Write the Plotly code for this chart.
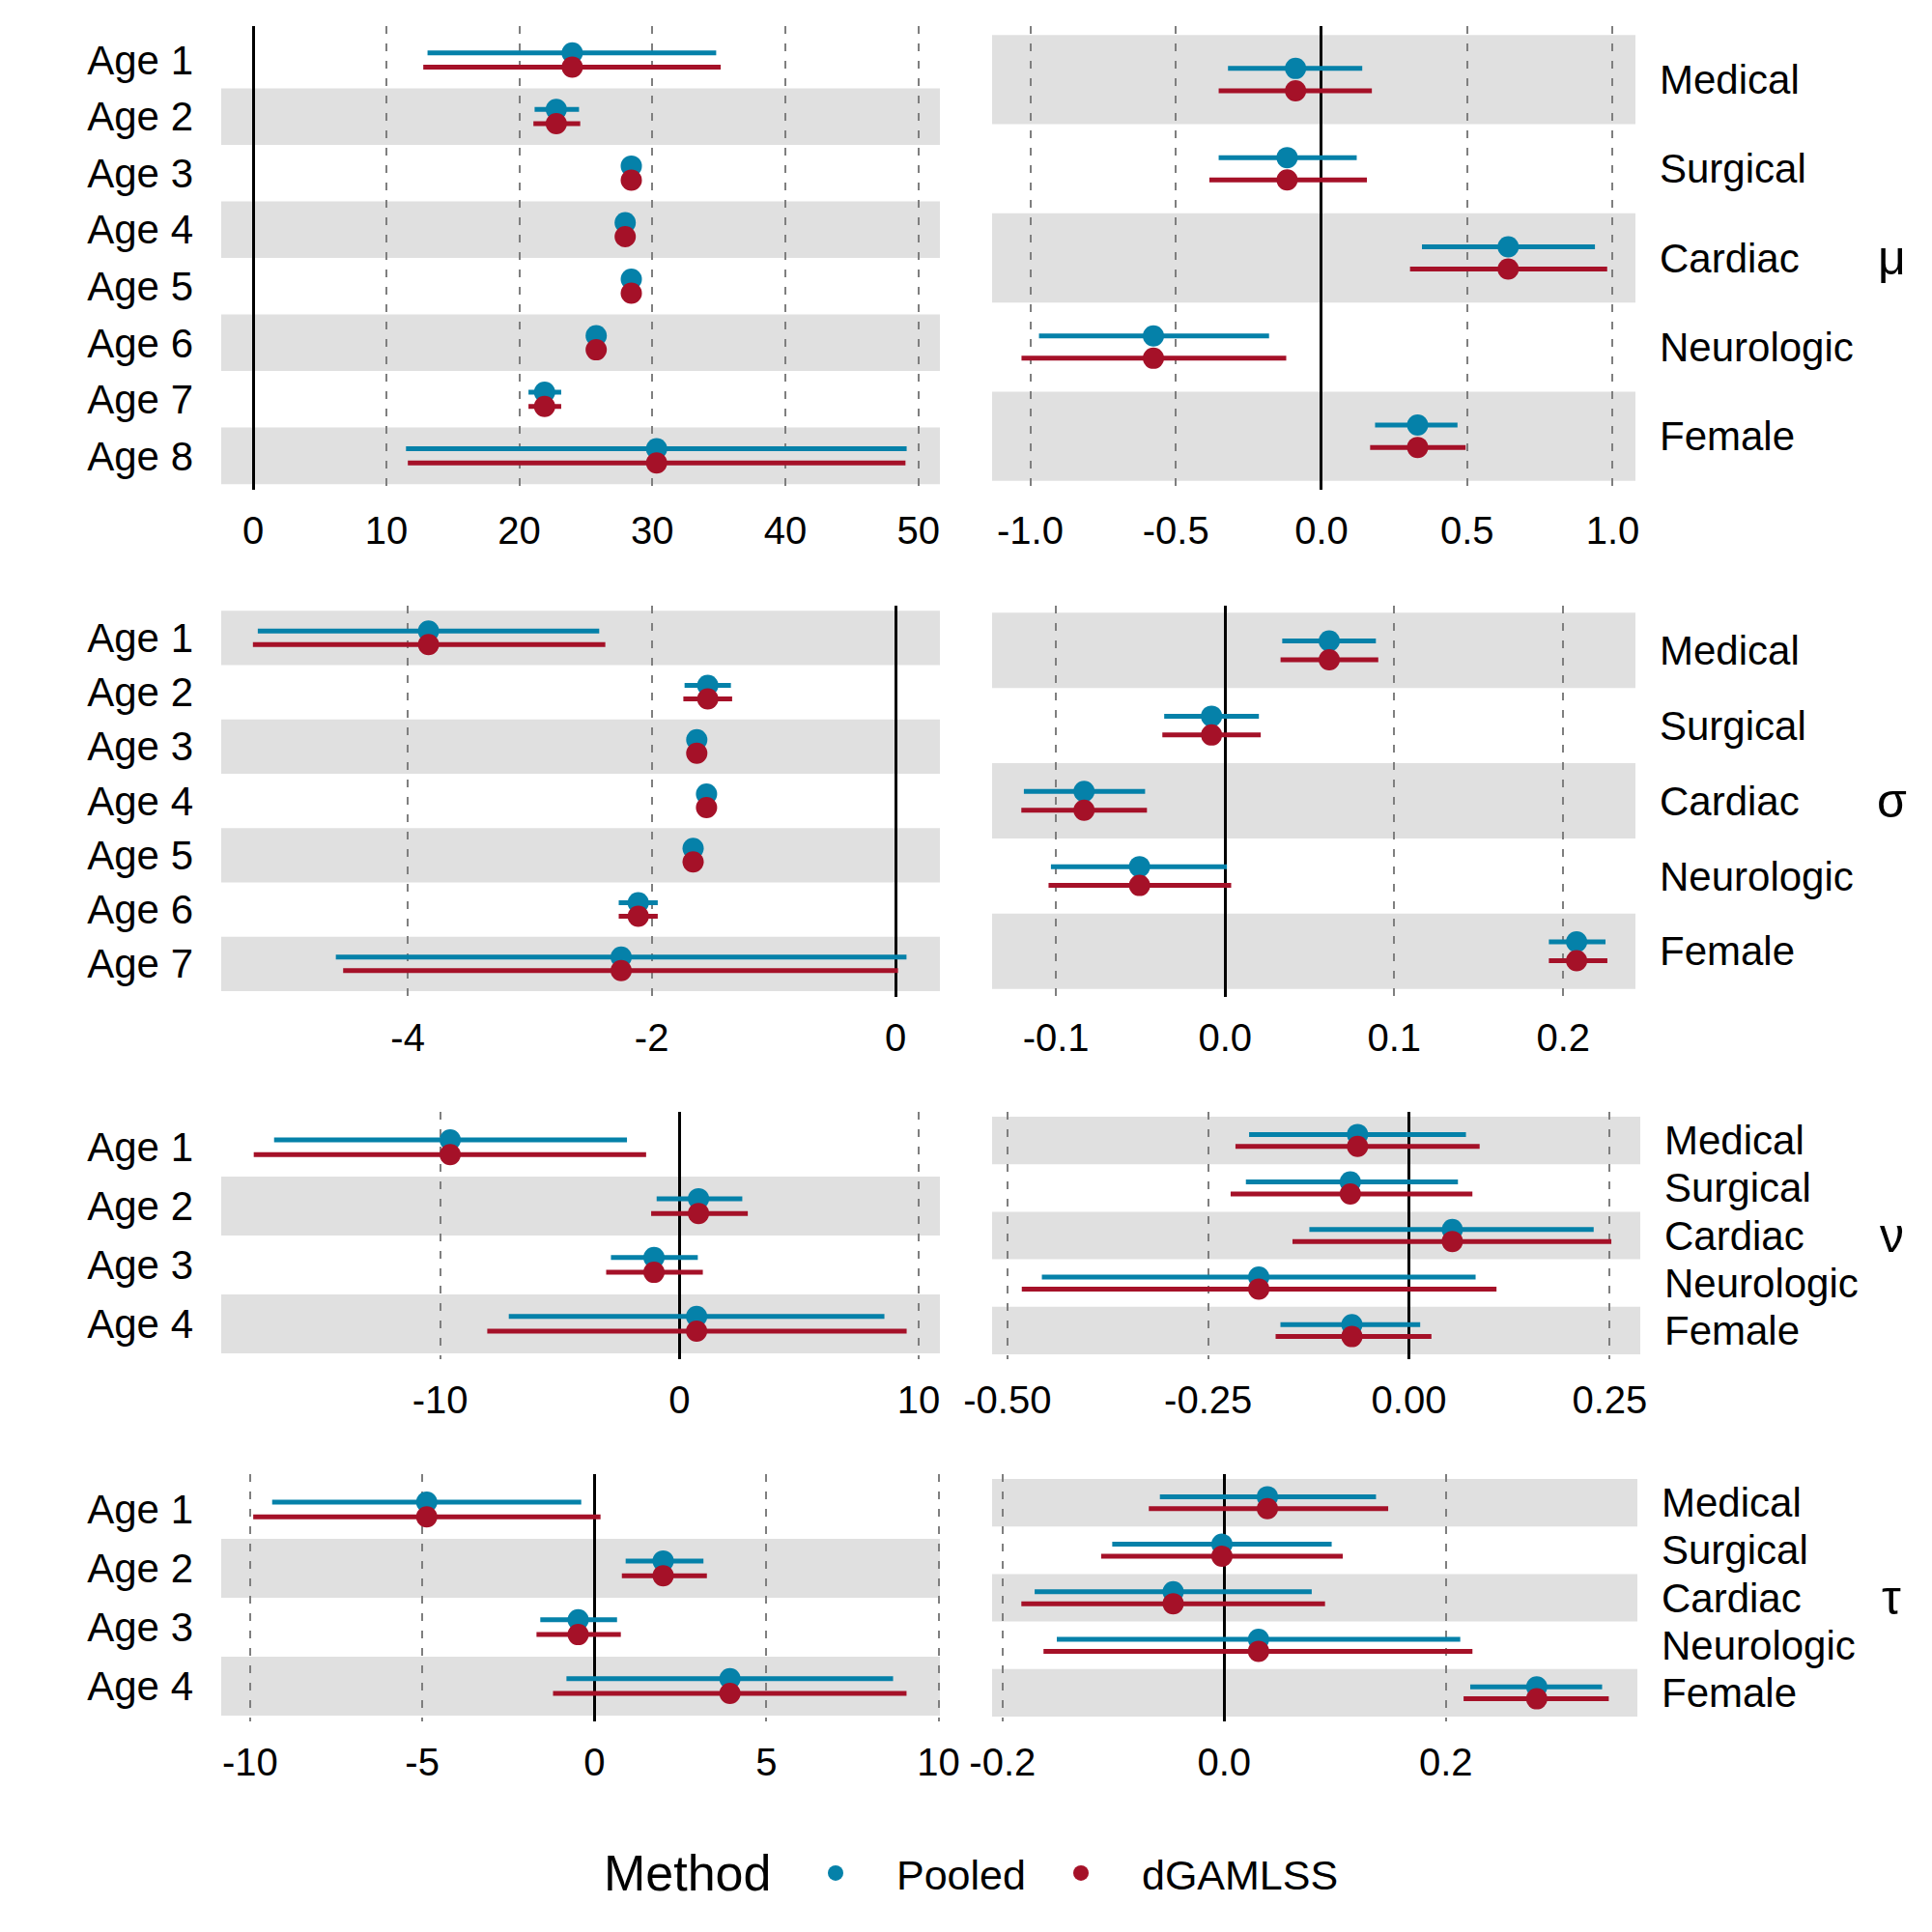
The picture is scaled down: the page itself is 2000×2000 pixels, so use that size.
import plotly.graph_objects as go

FONT = "Liberation Sans, Arial, Helvetica, sans-serif"
BLUE = "#0581A9"
RED = "#A51128"
BAND = "#E0E0E0"

# ---------------- data ----------------
age_labels = ["Age 1", "Age 2", "Age 3", "Age 4", "Age 5", "Age 6", "Age 7", "Age 8"]
cov_labels = ["Medical", "Surgical", "Cardiac", "Neurologic", "Female"]
param_labels = ["μ", "σ", "ν", "τ"]
methods = ["Pooled", "dGAMLSS"]
legend_title = "Method"

# mu - age effects (8 groups)
mu_age_est = [23.98, 22.78, 28.42, 27.96, 28.42, 25.78, 21.90, 30.32]
mu_age_pool_lo = [13.10, 21.15, 28.05, 27.60, 28.05, 25.40, 20.69, 11.48]
mu_age_pool_hi = [34.80, 24.49, 28.80, 28.30, 28.80, 26.15, 23.15, 49.12]
mu_age_dg_lo = [12.78, 21.06, 28.00, 27.55, 28.00, 25.35, 20.69, 11.62]
mu_age_dg_hi = [35.14, 24.58, 28.85, 28.35, 28.85, 26.20, 23.15, 49.03]

# mu - covariates
mu_cov_est = [-0.089, -0.118, 0.641, -0.577, 0.330]
mu_cov_pool_lo = [-0.321, -0.353, 0.345, -0.970, 0.184]
mu_cov_pool_hi = [0.140, 0.121, 0.939, -0.180, 0.467]
mu_cov_dg_lo = [-0.353, -0.385, 0.304, -1.030, 0.167]
mu_cov_dg_hi = [0.173, 0.156, 0.981, -0.121, 0.495]

# sigma - age effects (7 groups)
sg_age_est = [-3.83, -1.54, -1.63, -1.55, -1.66, -2.11, -2.25]
sg_age_pool_lo = [-5.23, -1.73, -1.66, -1.58, -1.69, -2.27, -4.59]
sg_age_pool_hi = [-2.43, -1.35, -1.60, -1.52, -1.63, -1.95, 0.09]
sg_age_dg_lo = [-5.27, -1.74, -1.66, -1.58, -1.69, -2.27, -4.53]
sg_age_dg_hi = [-2.38, -1.34, -1.60, -1.52, -1.63, -1.95, 0.02]

# sigma - covariates
sg_cov_est = [0.0616, -0.0080, -0.0834, -0.0506, 0.2079]
sg_cov_pool_lo = [0.0338, -0.0360, -0.1190, -0.1030, 0.1915]
sg_cov_pool_hi = [0.0892, 0.0200, -0.0473, 0.0011, 0.2250]
sg_cov_dg_lo = [0.0328, -0.0371, -0.1205, -0.1044, 0.1915]
sg_cov_dg_hi = [0.0906, 0.0211, -0.0462, 0.0036, 0.2261]

# nu - age effects (4 groups)
nu_age_est = [-9.58, 0.80, -1.06, 0.72]
nu_age_pool_lo = [-16.94, -0.95, -2.86, -7.13]
nu_age_pool_hi = [-2.19, 2.63, 0.77, 8.57]
nu_age_dg_lo = [-17.79, -1.18, -3.06, -8.03]
nu_age_dg_hi = [-1.39, 2.86, 0.98, 9.50]

# nu - covariates
nu_cov_est = [-0.064, -0.073, 0.054, -0.187, -0.071]
nu_cov_pool_lo = [-0.199, -0.203, -0.124, -0.457, -0.160]
nu_cov_pool_hi = [0.071, 0.061, 0.230, 0.083, 0.014]
nu_cov_dg_lo = [-0.216, -0.222, -0.145, -0.482, -0.166]
nu_cov_dg_hi = [0.088, 0.079, 0.252, 0.109, 0.028]

# tau - age effects (4 groups)
tau_age_est = [-4.87, 2.00, -0.47, 3.94]
tau_age_pool_lo = [-9.36, 0.91, -1.57, -0.81]
tau_age_pool_hi = [-0.38, 3.17, 0.66, 8.68]
tau_age_dg_lo = [-9.91, 0.80, -1.68, -1.20]
tau_age_dg_hi = [0.18, 3.27, 0.77, 9.07]

# tau - covariates
tau_cov_est = [0.039, -0.002, -0.046, 0.031, 0.282]
tau_cov_pool_lo = [-0.058, -0.101, -0.171, -0.151, 0.222]
tau_cov_pool_hi = [0.137, 0.097, 0.079, 0.213, 0.341]
tau_cov_dg_lo = [-0.068, -0.111, -0.183, -0.163, 0.216]
tau_cov_dg_hi = [0.148, 0.107, 0.091, 0.224, 0.347]

# x-axis ticks per panel
mu_age_ticks = [0, 10, 20, 30, 40, 50]
mu_age_ticktext = ["0", "10", "20", "30", "40", "50"]
mu_cov_ticks = [-1.0, -0.5, 0.0, 0.5, 1.0]
mu_cov_ticktext = ["-1.0", "-0.5", "0.0", "0.5", "1.0"]
sg_age_ticks = [-4, -2, 0]
sg_age_ticktext = ["-4", "-2", "0"]
sg_cov_ticks = [-0.1, 0.0, 0.1, 0.2]
sg_cov_ticktext = ["-0.1", "0.0", "0.1", "0.2"]
nu_age_ticks = [-10, 0, 10]
nu_age_ticktext = ["-10", "0", "10"]
nu_cov_ticks = [-0.5, -0.25, 0.0, 0.25]
nu_cov_ticktext = ["-0.50", "-0.25", "0.00", "0.25"]
tau_age_ticks = [-10, -5, 0, 5, 10]
tau_age_ticktext = ["-10", "-5", "0", "5", "10"]
tau_cov_ticks = [-0.2, 0.0, 0.2]
tau_cov_ticktext = ["-0.2", "0.0", "0.2"]

# ---------------- layout geometry ----------------
W = H = 2000
DODGE = 0.125
row_px = [(27, 507), (626.5, 1031.5), (1151, 1407), (1526, 1782)]
left_px = (229, 973)
right_px = [(1027, 1693), (1027, 1693), (1027, 1698), (1027, 1695)]

panels = [
    dict(cats=age_labels[:8], est=mu_age_est, plo=mu_age_pool_lo, phi=mu_age_pool_hi,
         dlo=mu_age_dg_lo, dhi=mu_age_dg_hi, xr=[-2.41, 51.62], tv=mu_age_ticks, tt=mu_age_ticktext),
    dict(cats=cov_labels, est=mu_cov_est, plo=mu_cov_pool_lo, phi=mu_cov_pool_hi,
         dlo=mu_cov_dg_lo, dhi=mu_cov_dg_hi, xr=[-1.131, 1.078], tv=mu_cov_ticks, tt=mu_cov_ticktext),
    dict(cats=age_labels[:7], est=sg_age_est, plo=sg_age_pool_lo, phi=sg_age_pool_hi,
         dlo=sg_age_dg_lo, dhi=sg_age_dg_hi, xr=[-5.53, 0.364], tv=sg_age_ticks, tt=sg_age_ticktext),
    dict(cats=cov_labels, est=sg_cov_est, plo=sg_cov_pool_lo, phi=sg_cov_pool_hi,
         dlo=sg_cov_dg_lo, dhi=sg_cov_dg_hi, xr=[-0.1378, 0.2427], tv=sg_cov_ticks, tt=sg_cov_ticktext),
    dict(cats=age_labels[:4], est=nu_age_est, plo=nu_age_pool_lo, phi=nu_age_pool_hi,
         dlo=nu_age_dg_lo, dhi=nu_age_dg_hi, xr=[-19.15, 10.89], tv=nu_age_ticks, tt=nu_age_ticktext),
    dict(cats=cov_labels, est=nu_cov_est, plo=nu_cov_pool_lo, phi=nu_cov_pool_hi,
         dlo=nu_cov_dg_lo, dhi=nu_cov_dg_hi, xr=[-0.519, 0.288], tv=nu_cov_ticks, tt=nu_cov_ticktext),
    dict(cats=age_labels[:4], est=tau_age_est, plo=tau_age_pool_lo, phi=tau_age_pool_hi,
         dlo=tau_age_dg_lo, dhi=tau_age_dg_hi, xr=[-10.84, 10.04], tv=tau_age_ticks, tt=tau_age_ticktext),
    dict(cats=cov_labels, est=tau_cov_est, plo=tau_cov_pool_lo, phi=tau_cov_pool_hi,
         dlo=tau_cov_dg_lo, dhi=tau_cov_dg_hi, xr=[-0.2094, 0.3728], tv=tau_cov_ticks, tt=tau_cov_ticktext),
]

fig = go.Figure()
shapes = []
annotations = []
layout_axes = {}

for k, p in enumerate(panels):
    idx = k + 1
    row, col = divmod(k, 2)
    sfx = "" if idx == 1 else str(idx)
    xname, yname = "x" + sfx, "y" + sfx
    n = len(p["cats"])
    pos = list(range(1, n + 1))

    series = [
        (methods[0], BLUE, p["est"], p["plo"], p["phi"], -DODGE, "legend"),
        (methods[1], RED, p["est"], p["dlo"], p["dhi"], DODGE, "legend2"),
    ]
    for name, color, est, lo, hi, off, lg in series:
        fig.add_trace(go.Scatter(
            x=est, y=[v + off for v in pos], mode="markers", name=name,
            legendgroup=name, showlegend=(k == 0), legend=lg,
            marker=dict(color=color, size=22),
            error_x=dict(type="data", symmetric=False,
                         array=[h - e for h, e in zip(hi, est)],
                         arrayminus=[e - l for e, l in zip(est, lo)],
                         color=color, thickness=5, width=0),
            xaxis=xname, yaxis=yname, hoverinfo="skip"))

    ytop, ybot = row_px[row]
    xl, xr_ = left_px if col == 0 else right_px[row]
    layout_axes["xaxis" + sfx] = dict(
        domain=[xl / W, xr_ / W], anchor=yname, range=p["xr"], automargin=False,
        tickmode="array", tickvals=p["tv"], ticktext=p["tt"],
        showgrid=True, griddash="8px,10px", gridcolor="#7f7f7f", gridwidth=2,
        zeroline=True, zerolinecolor="black", zerolinewidth=3,
        showline=False, ticks="", ticklabelstandoff=15,
        tickfont=dict(size=40, color="black", family=FONT), fixedrange=True)
    layout_axes["yaxis" + sfx] = dict(
        domain=[1 - ybot / H, 1 - ytop / H], anchor=xname, automargin=False,
        range=[n + 0.6, 0.4], tickmode="array", tickvals=pos, ticktext=p["cats"],
        side="left" if col == 0 else "right",
        showgrid=False, zeroline=False, showline=False, ticks="",
        ticklabelstandoff=28 if col == 0 else 24,
        tickfont=dict(size=42, color="black", family=FONT), fixedrange=True)

    # alternating background bands (last category shaded)
    for i in pos:
        if (n - i) % 2 == 0:
            shapes.append(dict(type="rect", xref=xname + " domain", yref=yname,
                               x0=0, x1=1, y0=i - 0.5, y1=i + 0.5,
                               fillcolor=BAND, line=dict(width=0), layer="below"))
    if col == 1:
        annotations.append(dict(text=param_labels[row], xref="paper", yref=yname + " domain",
                                x=1958 / W, y=0.5, xanchor="center", yanchor="middle",
                                showarrow=False, font=dict(size=50, color="black", family=FONT)))

# legend title as text next to the legend
annotations.append(dict(text=legend_title, xref="paper", yref="paper", x=711 / W, y=1 - 1939 / H,
                        xanchor="center", yanchor="middle", showarrow=False,
                        font=dict(size=52, color="black", family=FONT)))

legend_common = dict(orientation="h", xanchor="left", y=1 - 1939 / H, yanchor="middle",
                     font=dict(size=43, family=FONT, color="black"), itemwidth=116,
                     itemsizing="trace", bgcolor="rgba(0,0,0,0)", borderwidth=0)

fig.update_layout(
    width=W, height=H, margin=dict(l=0, r=0, t=0, b=0, autoexpand=False),
    paper_bgcolor="white", plot_bgcolor="white",
    font=dict(family=FONT, color="black"),
    shapes=shapes, annotations=annotations,
    legend=dict(x=802 / W, **legend_common),
    legend2=dict(x=1056 / W, **legend_common),
    **layout_axes,
)

fig.write_html("out.html")
